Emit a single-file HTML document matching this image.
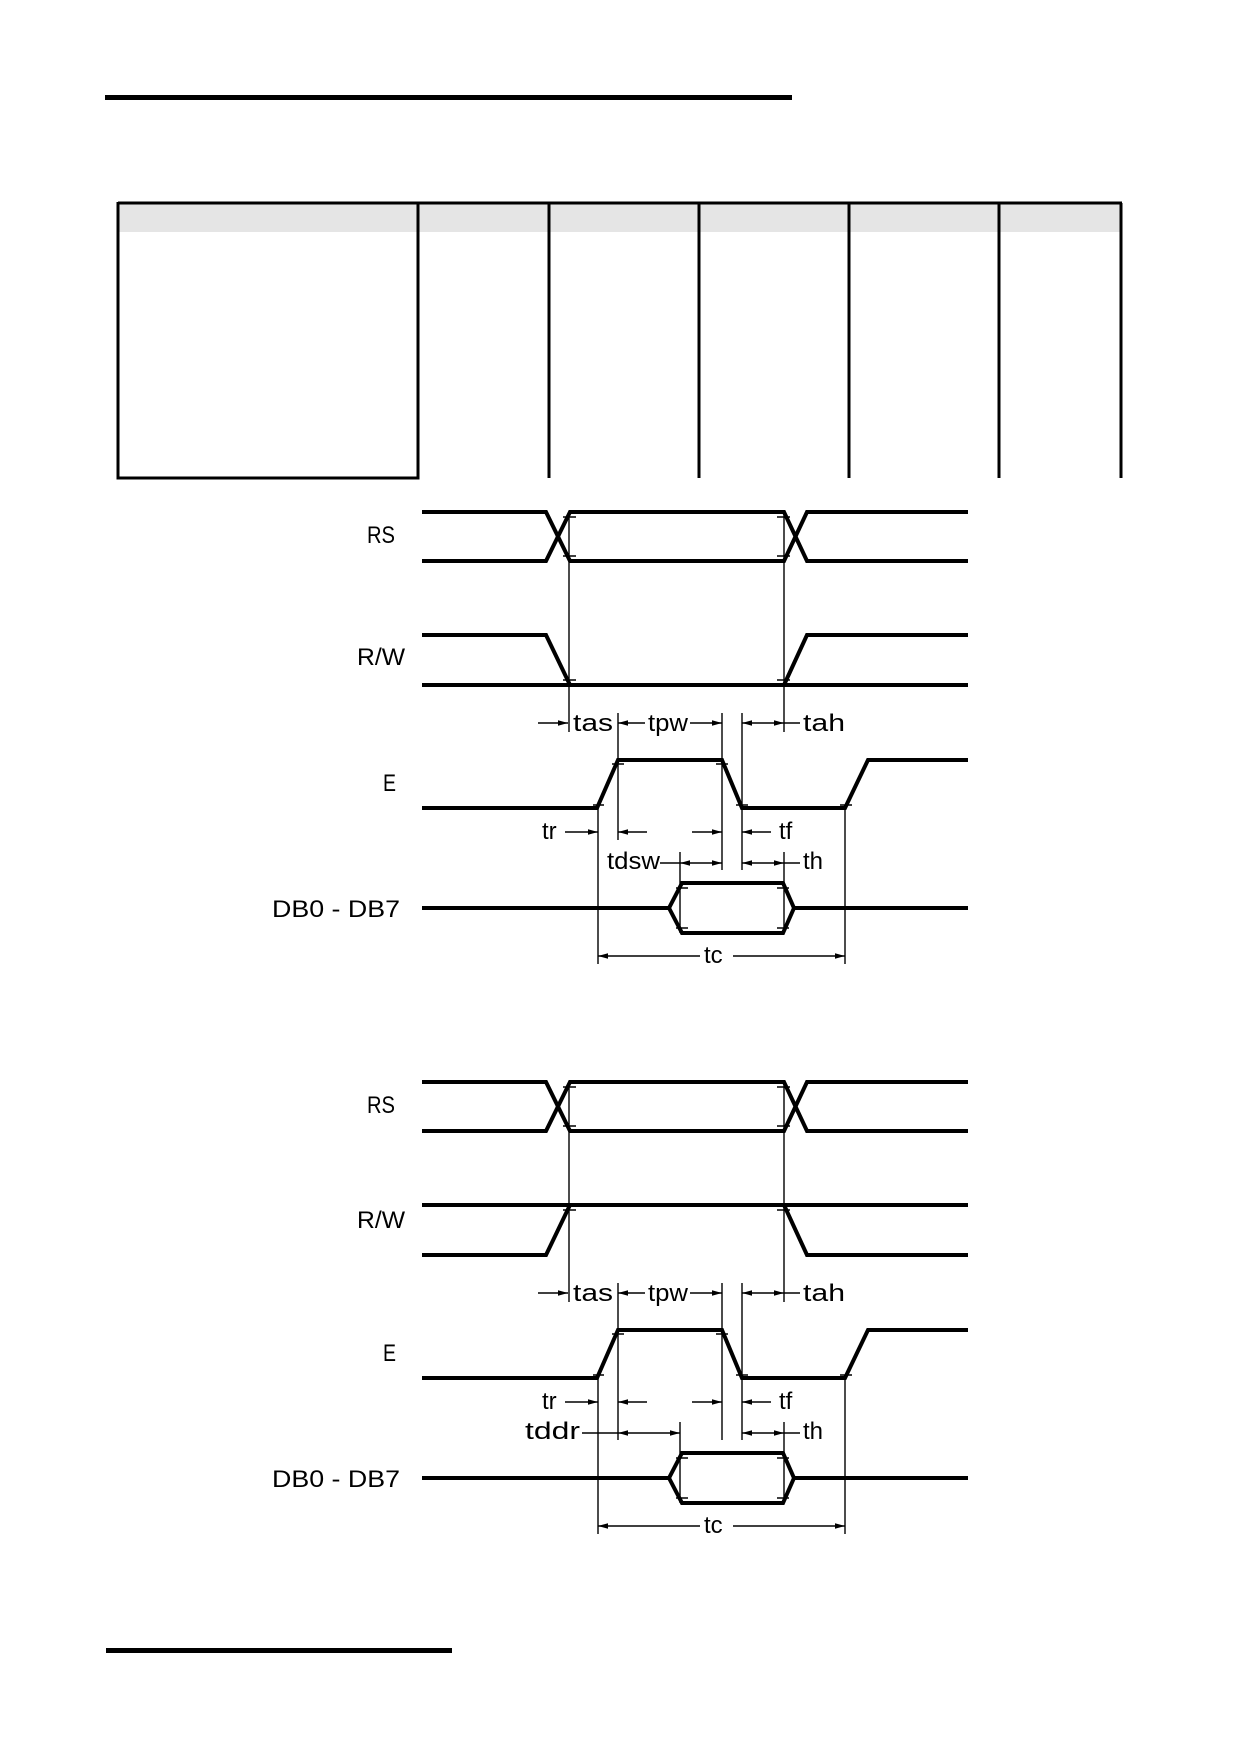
<!DOCTYPE html>
<html><head><meta charset="utf-8"><style>
html,body{margin:0;padding:0;background:#fff;}
svg{display:block;}
.k{stroke:#000;stroke-width:4;fill:none;stroke-linejoin:miter;}
.t{stroke:#000;stroke-width:1.4;fill:none;}
.l{font-family:"Liberation Sans",sans-serif;font-size:24px;fill:#000;}
.s{font-family:"Liberation Sans",sans-serif;font-size:24px;fill:#000;}
</style></head><body>
<svg width="1240" height="1754" viewBox="0 0 1240 1754" xmlns="http://www.w3.org/2000/svg">
<defs>
<g id="ar"><polygon points="0,0 -10,-2.8 -10,2.8" fill="#000"/></g>
</defs>
<rect x="105" y="95" width="687" height="5" fill="#000"/>
<rect x="118" y="204" width="1003" height="28" fill="#e5e5e5"/>
<path d="M118,203 H1122" stroke="#000" stroke-width="3"/>
<path d="M118,202 V478 H418 V203" stroke="#000" stroke-width="3" fill="none"/>
<path d="M549,203 V478 M699,203 V478 M849,203 V478 M999,203 V478 M1121,203 V478" stroke="#000" stroke-width="3"/>
<rect x="106" y="1648" width="346" height="5" fill="#000"/>

<g>
<text class="l" x="367" y="543" textLength="28" lengthAdjust="spacingAndGlyphs">RS</text>
<text class="l" x="357" y="665" textLength="48" lengthAdjust="spacingAndGlyphs">R/W</text>
<text class="l" x="383" y="791" textLength="13" lengthAdjust="spacingAndGlyphs">E</text>
<text class="l" x="272" y="917" textLength="128" lengthAdjust="spacingAndGlyphs">DB0 - DB7</text>
<path class="k" d="M422,512 H546 L570,561 H784 L807,512 H968"/>
<path class="k" d="M422,561 H546 L570,512 H784 L807,561 H968"/>
<path class="k" d="M422,635 H546 L570,685"/>
<path class="k" d="M422,685 H968"/>
<path class="k" d="M784,685 L807,635 H968"/>
<path class="k" d="M422,808 H597 L618,760 H722 L742,808 H845 L868,760 H968"/>
<path class="k" d="M422,908 H669 L682,883 H783 L794,908 H968"/>
<path class="k" d="M669,908 L682,933 H783 L794,908"/>
<path class="t" d="M563,517 H576 M563,556 H576 M777,517 H790 M777,556 H790 M563,680 H576 M777,680 H790 M593,805 H604 M612,764 H624 M716,764 H728 M736,805 H748 M840,805 H852 M676,888 H688 M676,928 H688 M777,888 H789 M777,928 H789"/>
<path class="t" d="M569,514 V732 M784,514 V732 M618,713 V840 M722,713 V870 M742,713 V870 M598,808 V964 M845,808 V964 M680,852 V933 M784,852 V933"/>
<path class="t" d="M538,723 H568"/><use href="#ar" x="568" y="723"/>
<text class="s" x="573" y="731" textLength="40" lengthAdjust="spacingAndGlyphs">tas</text>
<path class="t" d="M618,723 H645 M690,723 H722 M742,723 H800"/>
<use href="#ar" transform="translate(618,723) rotate(180)"/><use href="#ar" x="722" y="723"/>
<use href="#ar" transform="translate(742,723) rotate(180)"/><use href="#ar" x="784" y="723"/>
<text class="s" x="648" y="731" textLength="40" lengthAdjust="spacingAndGlyphs">tpw</text>
<text class="s" x="803" y="731" textLength="42" lengthAdjust="spacingAndGlyphs">tah</text>
<text class="s" x="542" y="839">tr</text>
<path class="t" d="M565,832 H598 M618,832 H647 M692,832 H722 M742,832 H771"/>
<use href="#ar" x="598" y="832"/><use href="#ar" transform="translate(618,832) rotate(180)"/>
<use href="#ar" x="722" y="832"/><use href="#ar" transform="translate(742,832) rotate(180)"/>
<text class="s" x="779" y="839">tf</text>
<text class="s" x="607" y="869" textLength="53" lengthAdjust="spacingAndGlyphs">tdsw</text>
<path class="t" d="M660,863 H722 M742,863 H800"/>
<use href="#ar" transform="translate(680,863) rotate(180)"/><use href="#ar" x="722" y="863"/>
<use href="#ar" transform="translate(742,863) rotate(180)"/><use href="#ar" x="784" y="863"/>
<text class="s" x="803" y="869">th</text>
<path class="t" d="M598,956 H700 M733,956 H845"/>
<use href="#ar" transform="translate(598,956) rotate(180)"/><use href="#ar" x="845" y="956"/>
<text class="s" x="704" y="963">tc</text>
</g>

<g transform="translate(0,570)">
<text class="l" x="367" y="543" textLength="28" lengthAdjust="spacingAndGlyphs">RS</text>
<text class="l" x="357" y="658" textLength="48" lengthAdjust="spacingAndGlyphs">R/W</text>
<text class="l" x="383" y="791" textLength="13" lengthAdjust="spacingAndGlyphs">E</text>
<text class="l" x="272" y="917" textLength="128" lengthAdjust="spacingAndGlyphs">DB0 - DB7</text>
<path class="k" d="M422,512 H546 L570,561 H784 L807,512 H968"/>
<path class="k" d="M422,561 H546 L570,512 H784 L807,561 H968"/>
<path class="k" d="M422,635 H968"/>
<path class="k" d="M422,685 H546 L570,635"/>
<path class="k" d="M784,635 L807,685 H968"/>
<path class="k" d="M422,808 H597 L618,760 H722 L742,808 H845 L868,760 H968"/>
<path class="k" d="M422,908 H669 L682,883 H783 L794,908 H968"/>
<path class="k" d="M669,908 L682,933 H783 L794,908"/>
<path class="t" d="M563,517 H576 M563,556 H576 M777,517 H790 M777,556 H790 M563,640 H576 M777,640 H790 M593,805 H604 M612,764 H624 M716,764 H728 M736,805 H748 M840,805 H852 M676,888 H688 M676,928 H688 M777,888 H789 M777,928 H789"/>
<path class="t" d="M569,514 V732 M784,514 V732 M618,713 V870 M722,713 V870 M742,713 V870 M598,808 V964 M845,808 V964 M680,852 V933 M784,852 V933"/>
<path class="t" d="M538,723 H568"/><use href="#ar" x="568" y="723"/>
<text class="s" x="573" y="731" textLength="40" lengthAdjust="spacingAndGlyphs">tas</text>
<path class="t" d="M618,723 H645 M690,723 H722 M742,723 H800"/>
<use href="#ar" transform="translate(618,723) rotate(180)"/><use href="#ar" x="722" y="723"/>
<use href="#ar" transform="translate(742,723) rotate(180)"/><use href="#ar" x="784" y="723"/>
<text class="s" x="648" y="731" textLength="40" lengthAdjust="spacingAndGlyphs">tpw</text>
<text class="s" x="803" y="731" textLength="42" lengthAdjust="spacingAndGlyphs">tah</text>
<text class="s" x="542" y="839">tr</text>
<path class="t" d="M565,832 H598 M618,832 H647 M692,832 H722 M742,832 H771"/>
<use href="#ar" x="598" y="832"/><use href="#ar" transform="translate(618,832) rotate(180)"/>
<use href="#ar" x="722" y="832"/><use href="#ar" transform="translate(742,832) rotate(180)"/>
<text class="s" x="779" y="839">tf</text>
<text class="s" x="525" y="869" textLength="55" lengthAdjust="spacingAndGlyphs">tddr</text>
<path class="t" d="M582,863 H680 M742,863 H800"/>
<use href="#ar" transform="translate(618,863) rotate(180)"/><use href="#ar" x="680" y="863"/>
<use href="#ar" transform="translate(742,863) rotate(180)"/><use href="#ar" x="784" y="863"/>
<text class="s" x="803" y="869">th</text>
<path class="t" d="M598,956 H700 M733,956 H845"/>
<use href="#ar" transform="translate(598,956) rotate(180)"/><use href="#ar" x="845" y="956"/>
<text class="s" x="704" y="963">tc</text>
</g>
</svg>
</body></html>
